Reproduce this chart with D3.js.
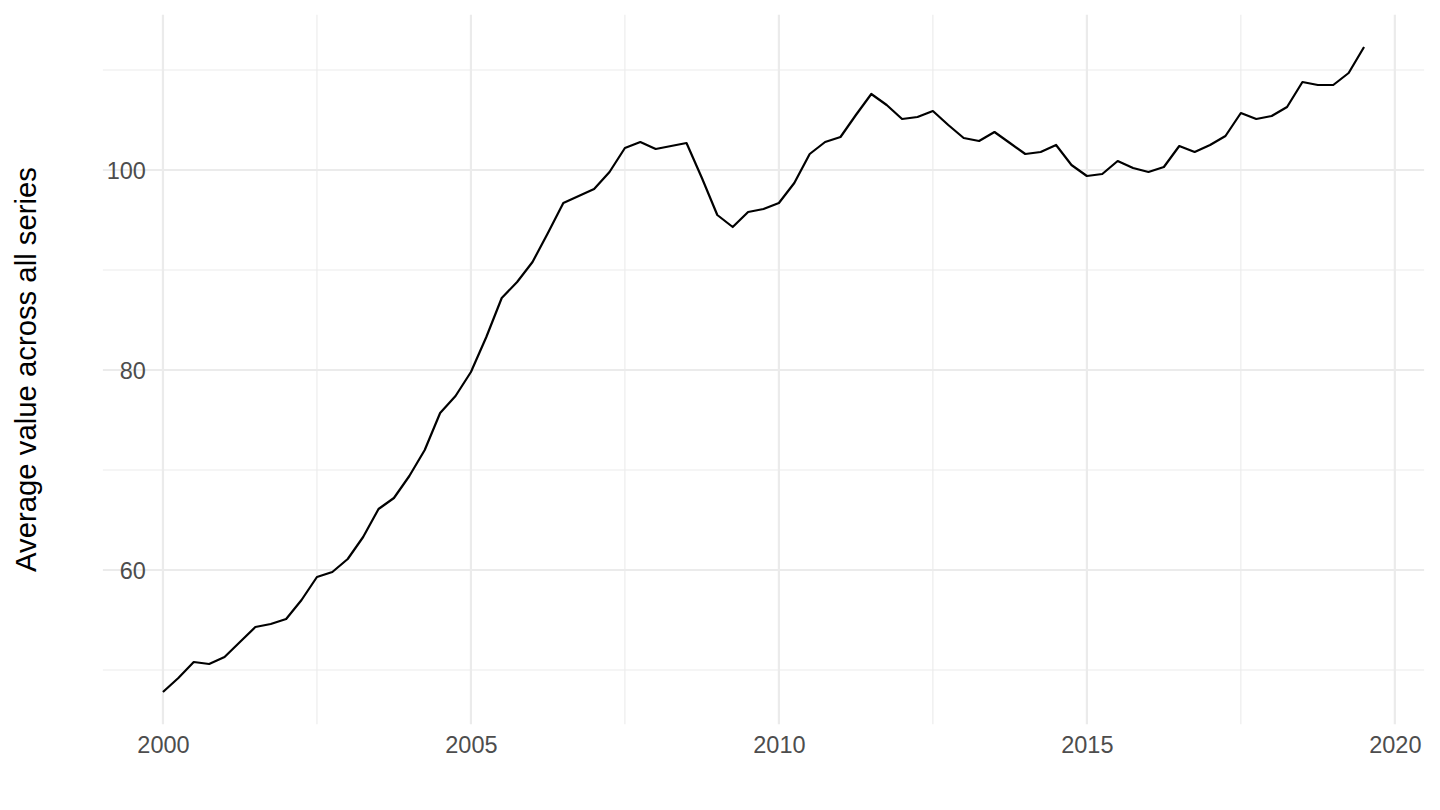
<!DOCTYPE html>
<html>
<head>
<meta charset="utf-8">
<script src="https://cdn.jsdelivr.net/npm/d3@7"></script>
<style>
  html, body { margin: 0; padding: 0; background: #ffffff; }
  svg { display: block; font-family: "Liberation Sans", Arial, Helvetica, sans-serif; }
</style>
</head>
<body>
<svg id="chart" width="1440" height="810"></svg>
<script>
// ---- Data (quarterly) ----
const years = [2000, 2001, 2002, 2003, 2004, 2005, 2006, 2007, 2008, 2009,
               2010, 2011, 2012, 2013, 2014, 2015, 2016, 2017, 2018, 2019];
const quarterOffsets = [0, 0.25, 0.5, 0.75];
const values = [
  47.8, 49.2, 50.8, 50.6,
  51.3, 52.8, 54.3, 54.6,
  55.1, 57.0, 59.3, 59.8,
  61.1, 63.3, 66.1, 67.2,
  69.4, 72.0, 75.7, 77.4,
  79.8, 83.3, 87.2, 88.8,
  90.8, 93.7, 96.7, 97.4,
  98.1, 99.8, 102.2, 102.8,
  102.1, 102.4, 102.7, 99.2,
  95.5, 94.3, 95.8, 96.1,
  96.7, 98.7, 101.6, 102.8,
  103.3, 105.5, 107.6, 106.5,
  105.1, 105.3, 105.9, 104.5,
  103.2, 102.9, 103.8, 102.7,
  101.6, 101.8, 102.5, 100.5,
  99.4, 99.6, 100.9, 100.2,
  99.8, 100.3, 102.4, 101.8,
  102.5, 103.4, 105.7, 105.1,
  105.4, 106.3, 108.8, 108.5,
  108.5, 109.7, 112.3
];
const xTicks = [2000, 2005, 2010, 2015, 2020];
const xMinor = [2002.5, 2007.5, 2012.5, 2017.5];
const yTicks = [60, 80, 100];
const yMinor = [50, 70, 90, 110];
const yTitle = "Average value across all series";

// build the series (time in decimal years)
const data = values.map((v, i) => ({
  t: years[Math.floor(i / 4)] + quarterOffsets[i % 4],
  v: v
}));

// ---- Layout ----
const panel = { left: 102.9, right: 1424.1, top: 14.75, bottom: 724.25 };

const tExt = d3.extent(data, d => d.t);
const vExt = d3.extent(data, d => d.v);
const tPad = (tExt[1] - tExt[0]) * 0.05;
const vPad = (vExt[1] - vExt[0]) * 0.05;

const x = d3.scaleLinear()
  .domain([tExt[0] - tPad, tExt[1] + tPad])
  .range([panel.left, panel.right]);
const y = d3.scaleLinear()
  .domain([vExt[0] - vPad, vExt[1] + vPad])
  .range([panel.bottom, panel.top]);

const svg = d3.select("#chart");

const grid = svg.append("g").attr("class", "grid");
// minor grid
grid.selectAll("line.ymin").data(yMinor).join("line")
  .attr("x1", panel.left).attr("x2", panel.right)
  .attr("y1", d => y(d)).attr("y2", d => y(d))
  .attr("stroke", "#EBEBEB").attr("stroke-width", 1.1);
grid.selectAll("line.xmin").data(xMinor).join("line")
  .attr("y1", panel.top).attr("y2", panel.bottom)
  .attr("x1", d => x(d)).attr("x2", d => x(d))
  .attr("stroke", "#EBEBEB").attr("stroke-width", 1.1);
// major grid
grid.selectAll("line.ymaj").data(yTicks).join("line")
  .attr("x1", panel.left).attr("x2", panel.right)
  .attr("y1", d => y(d)).attr("y2", d => y(d))
  .attr("stroke", "#EBEBEB").attr("stroke-width", 2.2);
grid.selectAll("line.xmaj").data(xTicks).join("line")
  .attr("y1", panel.top).attr("y2", panel.bottom)
  .attr("x1", d => x(d)).attr("x2", d => x(d))
  .attr("stroke", "#EBEBEB").attr("stroke-width", 2.2);

// axes (text only, as in theme_minimal)
const xAxis = d3.axisBottom(x).tickValues(xTicks).tickFormat(d3.format("d")).tickSize(0).tickPadding(0);
const gx = svg.append("g").attr("transform", `translate(0,${panel.bottom + 12})`).call(xAxis);
gx.select(".domain").remove();
gx.selectAll("text").attr("font-size", 23.5).attr("fill", "#4D4D4D")
  .attr("font-family", "'Liberation Sans', Arial, sans-serif").attr("dy", "0.71em");

const yAxis = d3.axisLeft(y).tickValues(yTicks).tickFormat(d3.format("d")).tickSize(0).tickPadding(0);
const gy = svg.append("g").attr("transform", `translate(${panel.left + 43},0)`).call(yAxis);
gy.select(".domain").remove();
gy.selectAll("text").attr("font-size", 23.5).attr("fill", "#4D4D4D")
  .attr("font-family", "'Liberation Sans', Arial, sans-serif").attr("dy", "0.35em");

// y title
svg.append("text")
  .attr("transform", `translate(36,${(panel.top + panel.bottom) / 2}) rotate(-90)`)
  .attr("text-anchor", "middle")
  .attr("font-size", 29.3)
  .attr("fill", "#000000")
  .text(yTitle);

// line
const line = d3.line().x(d => x(d.t)).y(d => y(d.v));
svg.append("path")
  .datum(data)
  .attr("fill", "none")
  .attr("stroke", "#000000")
  .attr("stroke-width", 2.2)
  .attr("stroke-linejoin", "round")
  .attr("d", line);
</script>
</body>
</html>
